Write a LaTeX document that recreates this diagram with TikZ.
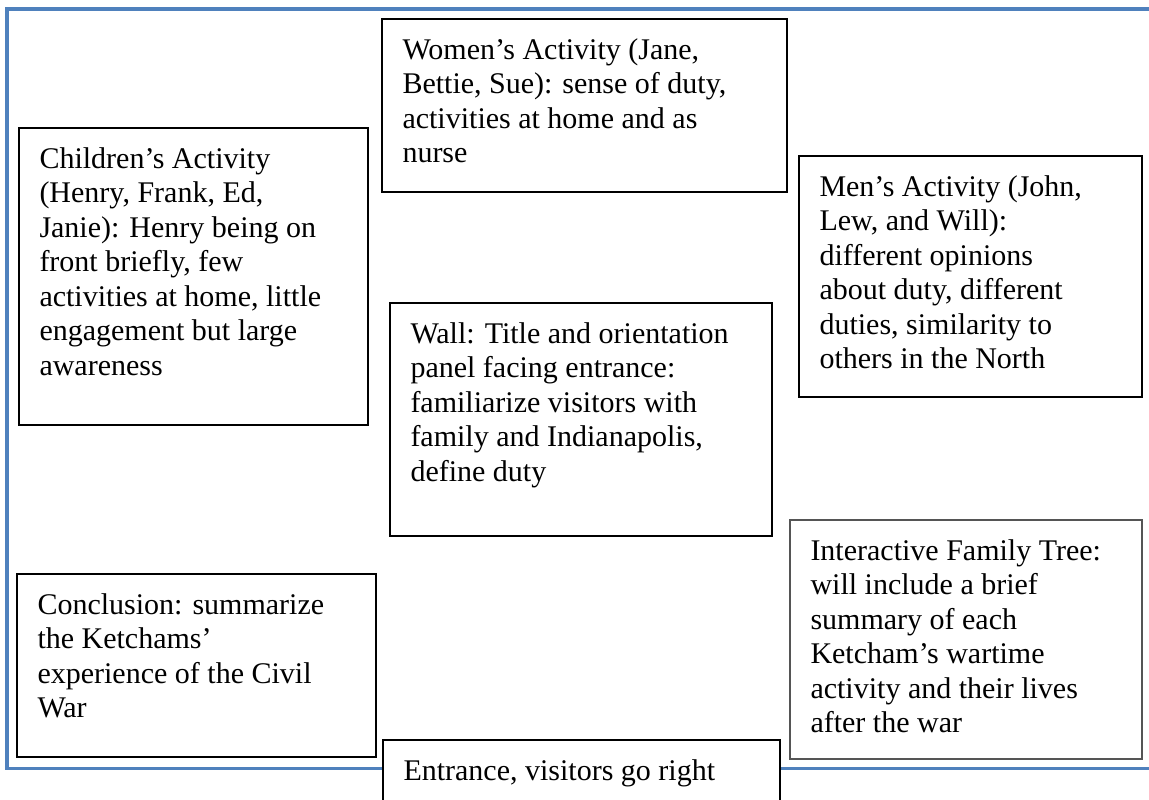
\documentclass[tikz,border=0pt]{standalone}
\usepackage{fontspec}
\setmainfont{Liberation Serif}
\usepackage{xcolor}
\definecolor{wallblue}{HTML}{4F81BD}
\definecolor{treegray}{HTML}{555555}
\newcommand{\boxstrut}{\rule{0pt}{10.7pt}}

\begin{document}
\begin{tikzpicture}[x=0.4pt,y=-0.4pt,
		panel/.style={draw=black,line width=0.8pt,fill=white},
		wall/.style={draw=wallblue,line width=1.2pt},
		boxtext/.style={anchor=north west,inner sep=0pt,align=left,font=\fontsize{12}{13.8}\selectfont}]
	\useasboundingbox (0,0) rectangle (1149,800);
	\draw[wall] (1160,9) -- (7,9) -- (7,768) -- (1160,768);

	\draw[panel] (382,19) rectangle (787,192);
	\node[boxtext] (women) at (402,32) {\boxstrut Women's Activity (Jane,\\ Bettie, Sue): sense of duty,\\ activities at home and as\\ nurse};

	\draw[panel] (19,128) rectangle (368,425);
	\node[boxtext] (children) at (39,141) {\boxstrut Children's Activity\\ (Henry, Frank, Ed,\\ Janie): Henry being on\\ front briefly, few\\ activities at home, little\\ engagement but large\\ awareness};

	\draw[panel] (799,156) rectangle (1142,397);
	\node[boxtext] (men) at (819,169) {\boxstrut Men's Activity (John,\\ Lew, and Will):\\ different opinions\\ about duty, different\\ duties, similarity to\\ others in the North};

	\draw[panel] (390,303) rectangle (772,536);
	\node[boxtext] (wallpanel) at (410,316) {\boxstrut Wall: Title and orientation\\ panel facing entrance:\\ familiarize visitors with\\ family and Indianapolis,\\ define duty};

	\draw[panel,draw=treegray] (790,520) rectangle (1142,759);
	\node[boxtext] (tree) at (810,533) {\boxstrut Interactive Family Tree:\\ will include a brief\\ summary of each\\ Ketcham's wartime\\ activity and their lives\\ after the war};

	\draw[panel] (17,574) rectangle (376,757);
	\node[boxtext] (conclusion) at (37,587) {\boxstrut Conclusion: summarize\\ the Ketchams'\\ experience of the Civil\\ War};

	\draw[panel] (383,740) rectangle (780,820);
	\node[boxtext] (entrance) at (403,753) {\boxstrut Entrance, visitors go right};
\end{tikzpicture}
\end{document}
